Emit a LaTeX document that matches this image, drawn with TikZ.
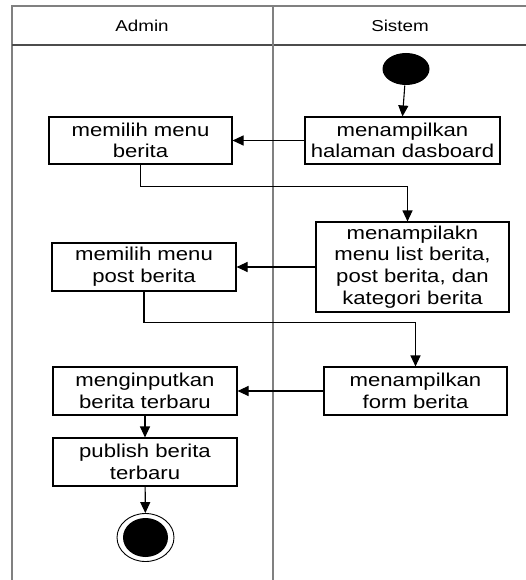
\documentclass[tikz,border=0pt]{standalone}
\usepackage{fontspec}
\setmainfont[FakeStretch=1.19]{Liberation Sans}
\usetikzlibrary{arrows.meta,shapes.geometric}

\tikzset{
  lane/.style={draw=gray, line width=1.6pt},
  aksi/.style={draw, line width=1.1pt, align=center, inner sep=0pt,
    minimum height=47pt, font=\fontsize{18.6}{21.7}\selectfont},
  judul/.style={font=\fontsize{15.8}{18}\selectfont},
}

\begin{document}
\begin{tikzpicture}[>={Triangle[length=11pt,width=10pt]}, x=1pt, y=-1pt, line width=1.1pt]
\useasboundingbox (0,0) rectangle (526,580);
  % swimlanes
  \draw[lane](12,580)--(12,6)--(526,6);
  \draw[lane, draw=gray!60!black](12,45)--(526,45);
  \draw[lane](273,6)--(273,580);
\node[judul] (admin) at (142,26) {Admin};
\node[judul] (sistem) at (400,26) {Sistem};

\node[ellipse, fill, minimum width=47pt, minimum height=32pt, inner sep=0pt] (mulai) at (406,69) {};
\node[aksi, minimum width=195pt] (dasb) at (402.5,140.5) {menampilkan\\halaman dasboard};
\node[aksi, minimum width=183pt] (berita) at (140.5,140.5) {memilih menu\\berita};
\node[aksi, minimum width=193pt, minimum height=90pt] (list) at (412.5,267) {menampilakn\\menu list berita,\\post berita, dan\\kategori berita};
\node[aksi, minimum width=184pt, minimum height=48pt] (post) at (144,267) {memilih menu\\post berita};
\node[aksi, minimum width=183pt, minimum height=48pt] (form) at (415.5,391) {menampilkan\\form berita};
\node[aksi, minimum width=184pt, minimum height=48pt] (input) at (145,391) {menginputkan\\berita terbaru};
\node[aksi, minimum width=184pt, minimum height=48pt] (publish) at (145,462) {publish berita\\terbaru};
\node[ellipse, draw, line width=.9pt, minimum width=57pt, minimum height=48pt, inner sep=0pt] (selesai) at (145.5,537.5) {};
\fill (selesai.center) ellipse (22.5 and 19.5);

\draw[->](mulai)--(dasb.north);
\draw[->](dasb.west)--(berita.east);
\draw[->](berita.south)--++(0,22)-|([xshift=-5pt]list.north);
\draw[->](list.west)--(post.east);
\draw[->](post.south)--++(0,31)-|(form.north);
\draw[->](form.west)--(input.east);
\draw[->](input)--(publish);
\draw[->](publish)--(selesai);

\end{tikzpicture}
\end{document}
